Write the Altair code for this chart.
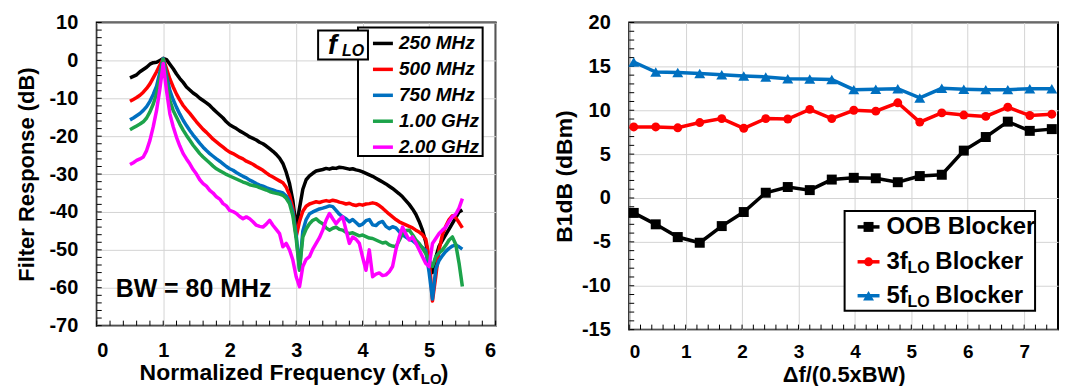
import altair as alt
import pandas as pd

FONT = "Liberation Sans"

# ---------------- Left panel data: filter response ----------------
freq = [round(0.5 + 0.05 * i, 2) for i in range(101)]

resp_250 = [-4.6, -4.2, -3.8, -3.0, -2.4, -1.8, -1.0, -0.6, -0.5, 0.0,
            0.5, 0.2, -1.0, -2.2, -3.6, -4.8, -5.8, -7.0, -7.8, -8.6,
            -9.2, -10.0, -10.6, -11.2, -11.9, -12.8, -13.6, -14.4, -15.2, -16.2,
            -17.0, -17.5, -18.0, -18.6, -19.1, -19.6, -20.2, -20.6, -21.0, -21.6,
            -22.0, -22.6, -23.3, -24.0, -24.8, -25.8, -27.2, -29.5, -32.5, -37.0,
            -44.0, -39.0, -34.0, -31.5, -30.5, -29.8, -29.2, -29.0, -28.8, -28.5,
            -28.7, -28.4, -28.5, -28.2, -28.3, -28.5, -28.7, -28.6, -28.9, -29.1,
            -29.4, -29.8, -30.2, -30.6, -31.1, -31.6, -32.1, -32.6, -33.2, -33.8,
            -34.5, -35.2, -36.0, -37.0, -38.0, -39.2, -40.6, -42.5, -44.8, -48.0,
            -53.0, -56.0, -52.0, -49.0, -47.5, -46.0, -44.5, -43.0, -41.5, -40.0,
            -39.5]

resp_500 = [-10.8, -10.3, -9.8, -9.2, -8.4, -7.4, -6.2, -4.6, -3.0, -1.2,
            0.5, -2.2, -4.9, -7.0, -8.9, -10.5, -11.9, -13.0, -14.0, -15.1,
            -16.2, -17.2, -18.2, -19.0, -19.9, -20.8, -21.5, -22.2, -22.9, -23.6,
            -24.2, -24.6, -25.1, -25.6, -26.0, -26.6, -27.0, -27.4, -28.0, -28.5,
            -29.0, -29.7, -30.3, -30.8, -31.3, -31.8, -32.3, -33.5, -35.5, -39.0,
            -46.5, -42.5, -39.8, -38.5, -37.9, -37.6, -37.3, -37.5, -37.2, -37.0,
            -37.2, -36.9, -37.1, -37.4, -37.6, -37.9, -37.7, -38.1, -38.3, -38.0,
            -38.2, -37.9, -37.8, -37.6, -37.8, -38.3, -39.0, -39.8, -40.6, -41.3,
            -42.0, -42.6, -43.0, -43.4, -43.8, -44.2, -44.8, -45.3, -46.0, -47.2,
            -52.0, -63.5, -57.0, -50.0, -46.0, -43.8, -42.0, -41.0, -41.5, -42.8,
            -44.2]

resp_750 = [-15.7, -15.2, -14.6, -14.0, -13.2, -12.2, -10.8, -9.0, -6.8, -3.2,
            0.5, -4.0, -8.0, -10.4, -12.4, -14.2, -15.8, -17.2, -18.5, -19.7,
            -20.8, -21.9, -22.9, -23.8, -24.6, -25.3, -26.0, -26.6, -27.3, -28.0,
            -28.6, -29.0, -29.6, -30.1, -30.6, -31.0, -31.6, -32.0, -32.5, -32.9,
            -33.2, -33.6, -33.9, -34.2, -34.5, -34.7, -35.0, -35.8, -37.2, -40.0,
            -46.0, -55.0, -45.0, -42.0, -40.5, -40.0, -39.6, -39.2, -39.0, -38.7,
            -38.4, -38.6, -39.6, -40.6, -41.3, -41.8, -42.6, -42.0, -42.8, -43.6,
            -43.2, -42.3, -42.0, -43.4, -43.6, -42.8, -42.5, -43.8, -44.4, -43.9,
            -44.2, -45.2, -46.0, -46.6, -47.2, -47.6, -48.3, -48.7, -49.4, -50.2,
            -56.0, -63.0, -55.0, -52.8, -51.5, -50.4, -49.6, -49.0, -48.7, -49.2,
            -49.8]

resp_1000 = [-18.3, -17.8, -17.3, -16.8, -16.2, -15.2, -13.6, -11.5, -8.8, -4.6,
             0.3, -5.5, -10.6, -13.2, -15.0, -16.8, -18.4, -19.8, -21.1, -22.4,
             -23.5, -24.6, -25.5, -26.3, -27.1, -27.9, -28.6, -29.1, -29.6, -30.1,
             -30.5, -30.9, -31.3, -31.7, -32.1, -32.4, -32.8, -33.0, -33.2, -33.6,
             -33.9, -34.2, -34.6, -34.9, -35.1, -35.3, -35.6, -36.4, -37.8, -41.0,
             -47.0, -55.4, -46.6, -44.5, -43.1, -42.2, -41.8, -42.6, -43.1, -44.2,
             -44.8, -44.3, -44.0, -44.6, -44.8, -45.4, -45.7, -45.5, -45.9, -46.3,
             -46.1, -46.5, -46.9, -47.0, -47.4, -47.8, -48.2, -48.0, -48.7, -49.0,
             -49.2, -47.5, -45.7, -44.9, -44.8, -46.0, -47.4, -48.3, -49.6, -51.0,
             -52.7, -54.4, -51.8, -50.8, -50.0, -48.8, -47.4, -46.6, -48.5, -53.5,
             -59.7]

resp_2000 = [-27.5, -27.0, -26.4, -26.0, -25.5, -23.8, -21.1, -17.5, -13.2, -7.5,
             -0.8, -8.0, -14.1, -17.5, -20.3, -22.6, -24.6, -26.0, -27.3, -28.8,
             -30.0, -31.5, -32.5, -33.2, -34.3, -35.0, -36.0, -36.6, -37.8, -38.4,
             -39.6, -39.9, -40.4, -41.2, -41.8, -41.3, -41.8, -42.6, -43.5, -43.8,
             -44.0, -43.2, -42.2, -43.5, -44.6, -45.7, -49.2, -48.3, -50.0, -52.7,
             -57.1, -59.7, -54.4, -52.5, -51.8, -49.8, -48.3, -46.8, -44.8, -42.2,
             -40.4, -41.8, -43.1, -42.0, -41.3, -44.8, -48.3, -46.6, -47.2, -48.3,
             -52.0, -55.4, -50.0, -57.1, -56.4, -56.1, -56.8, -56.6, -55.8, -54.4,
             -50.0, -46.6, -44.0, -45.8, -47.4, -46.6, -48.2, -50.0, -51.8, -53.6,
             -54.4, -48.3, -47.0, -45.7, -44.8, -44.0, -42.5, -41.3, -40.6, -39.0,
             -36.5]

left_names = ["250 MHz", "500 MHz", "750 MHz", "1.00 GHz", "2.00 GHz"]
left_colors = ["#000000", "#ff0000", "#0070c0", "#1ca34a", "#ff00ff"]
left_series = [resp_250, resp_500, resp_750, resp_1000, resp_2000]

# ---------------- Right panel data: B1dB ----------------
delta_f = [0.08, 0.47, 0.86, 1.25, 1.64, 2.03, 2.42, 2.81, 3.20, 3.59,
           3.98, 4.37, 4.76, 5.15, 5.54, 5.93, 6.32, 6.71, 7.10, 7.49]
b1db_oob = [-1.7, -3.0, -4.45, -5.1, -3.2, -1.6, 0.6, 1.25, 0.9, 2.1,
            2.3, 2.25, 1.8, 2.5, 2.65, 5.4, 6.95, 8.7, 7.65, 7.85]
b1db_3f = [8.1, 8.1, 8.0, 8.6, 9.05, 7.95, 9.05, 9.0, 10.1, 9.05,
           10.0, 9.9, 10.85, 8.65, 9.7, 9.45, 9.3, 10.35, 9.4, 9.55]
b1db_5f = [15.5, 14.35, 14.3, 14.2, 14.05, 13.9, 13.8, 13.6, 13.55, 13.5,
           12.35, 12.4, 12.45, 11.4, 12.5, 12.4, 12.35, 12.35, 12.45, 12.45]

right_colors = ["#000000", "#ff0000", "#0070c0"]
right_shapes = ["square", "circle", "triangle-up"]
right_sizes = [100, 80, 120]
right_series = [b1db_oob, b1db_3f, b1db_5f]

# ---------------- helpers ----------------
W1, H1 = 400, 304
W2, H2 = 430, 308

one = pd.DataFrame({"a": [0]})


def txt(x, y, s, size, italic=False, align="left", baseline="middle"):
    kw = dict(text=s, font=FONT, fontSize=size, fontWeight="bold", color="black",
              align=align, baseline=baseline)
    if italic:
        kw["fontStyle"] = "italic"
    return alt.Chart(one).mark_text(**kw).encode(x=alt.value(x), y=alt.value(y))


def box(x1, x2, y1, y2):
    return alt.Chart(one).mark_rect(fill="white", stroke="black", strokeWidth=2).encode(
        x=alt.value(x1), x2=alt.value(x2), y=alt.value(y1), y2=alt.value(y2))


def seg(x1, x2, y, color):
    return alt.Chart(one).mark_rule(color=color, strokeWidth=3.5).encode(
        x=alt.value(x1), x2=alt.value(x2), y=alt.value(y))


# ---------------- Left panel ----------------
xs1 = alt.Scale(domain=[0, 6], nice=False)
ys1 = alt.Scale(domain=[-70, 10], nice=False)
ax1x = alt.Axis(values=list(range(0, 7)), labelExpr="'' + datum.value", title=None,
                labelPadding=15, grid=True, labelFontSize=20)
ax1y = alt.Axis(values=list(range(-70, 11, 10)), labelExpr="'' + datum.value",
                title="Filter Response (dB)", titleFontSize=22, titlePadding=11,
                labelPadding=19, grid=True, labelFontSize=20)

minor_x1 = pd.DataFrame({"v": [round(0.2 * i, 1) for i in range(31)]})
minor_y1 = pd.DataFrame({"v": list(range(-70, 11, 2))})

L = []
L.append(alt.Chart(minor_x1).mark_rule(color="black", strokeWidth=1).encode(
    x=alt.X("v:Q", scale=xs1, axis=ax1x), y=alt.value(H1), y2=alt.value(H1 - 5)))
L.append(alt.Chart(minor_y1).mark_rule(color="black", strokeWidth=1).encode(
    y=alt.Y("v:Q", scale=ys1, axis=ax1y), x=alt.value(0), x2=alt.value(5)))

for vals, color in zip(left_series, left_colors):
    d = pd.DataFrame({"f": freq, "r": vals})
    L.append(alt.Chart(d).mark_line(color=color, strokeWidth=3.5, strokeJoin="round").encode(
        x=alt.X("f:Q", scale=xs1, axis=ax1x), y=alt.Y("r:Q", scale=ys1, axis=ax1y)))

# legend
L.append(box(262, 387, 5, 134))
rows1 = [21, 47, 73, 99, 125]
for name, color, ry in zip(left_names, left_colors, rows1):
    L.append(seg(277, 297, ry, color))
    L.append(txt(303, ry, name, 19, italic=True))
L.append(box(222, 272, 8, 37))
L.append(txt(232, 32, "f", 27, italic=True, baseline="alphabetic"))
L.append(txt(246, 34, "LO", 16, italic=True, baseline="alphabetic"))

L.append(txt(19, 267, "BW = 80 MHz", 25))

# x-axis title with subscript
L.append(txt(324, 359, "Normalized Frequency (xf", 23, align="right", baseline="alphabetic"))
L.append(txt(325, 363, "LO", 15, baseline="alphabetic"))
L.append(txt(345, 359, ")", 23, baseline="alphabetic"))

left = alt.layer(*L).properties(width=W1, height=H1)

# ---------------- Right panel ----------------
xs2 = alt.Scale(domain=[0, 7.6], nice=False)
ys2 = alt.Scale(domain=[-15, 20], nice=False)
ax2x = alt.Axis(values=list(range(0, 8)), labelExpr="'' + datum.value",
                title="\u0394f/(0.5xBW)", titleFontSize=22, titlePadding=3,
                labelPadding=13, grid=True, labelFontSize=19)
ax2y = alt.Axis(values=list(range(-15, 21, 5)), labelExpr="'' + datum.value",
                title="B1dB (dBm)", titleFontSize=23, titlePadding=5,
                labelPadding=19, grid=True, labelFontSize=20)

minor_x2 = pd.DataFrame({"v": [round(0.2 * i, 1) for i in range(39)]})
minor_y2 = pd.DataFrame({"v": list(range(-15, 21))})

R = []
R.append(alt.Chart(minor_x2).mark_rule(color="black", strokeWidth=1).encode(
    x=alt.X("v:Q", scale=xs2, axis=ax2x), y=alt.value(H2), y2=alt.value(H2 - 5)))
R.append(alt.Chart(minor_y2).mark_rule(color="black", strokeWidth=1).encode(
    y=alt.Y("v:Q", scale=ys2, axis=ax2y), x=alt.value(0), x2=alt.value(5)))

for vals, color, shape, size in zip(right_series, right_colors, right_shapes, right_sizes):
    d = pd.DataFrame({"d": delta_f, "b": vals})
    base = alt.Chart(d).encode(x=alt.X("d:Q", scale=xs2, axis=ax2x),
                               y=alt.Y("b:Q", scale=ys2, axis=ax2y))
    R.append(base.mark_line(color=color, strokeWidth=3.5))
    R.append(base.mark_point(color=color, fill=color, filled=True, opacity=1,
                             shape=shape, size=size))

# legend
R.append(box(216, 407, 189, 289))
rows2 = [205, 240, 274]
for color, shape, size, ry in zip(right_colors, right_shapes, right_sizes, rows2):
    R.append(seg(229, 251, ry, color))
    R.append(alt.Chart(one).mark_point(color=color, fill=color, filled=True, opacity=1,
                                       shape=shape, size=size).encode(
        x=alt.value(240), y=alt.value(ry)))
R.append(txt(258, 205, "OOB Blocker", 24))
R.append(txt(258, 240, "3f", 24))
R.append(txt(279, 246, "LO", 16))
R.append(txt(307, 240, "Blocker", 24))
R.append(txt(258, 274, "5f", 24))
R.append(txt(279, 280, "LO", 16))
R.append(txt(307, 274, "Blocker", 24))

right = alt.layer(*R).properties(width=W2, height=H2)

chart = alt.hconcat(left, right, spacing=55).properties(
    padding={"left": 6, "top": 3, "right": 0, "bottom": 0},
    background="white",
).configure_view(stroke="black", strokeWidth=2).configure_axis(
    labelFont=FONT, titleFont=FONT, labelFontWeight="bold", titleFontWeight="bold",
    labelColor="black", titleColor="black", gridColor="#d4d4d4", gridWidth=1,
    domain=False, ticks=False,
)

chart.save("out.html", embed_options={"renderer": "svg", "actions": False})
